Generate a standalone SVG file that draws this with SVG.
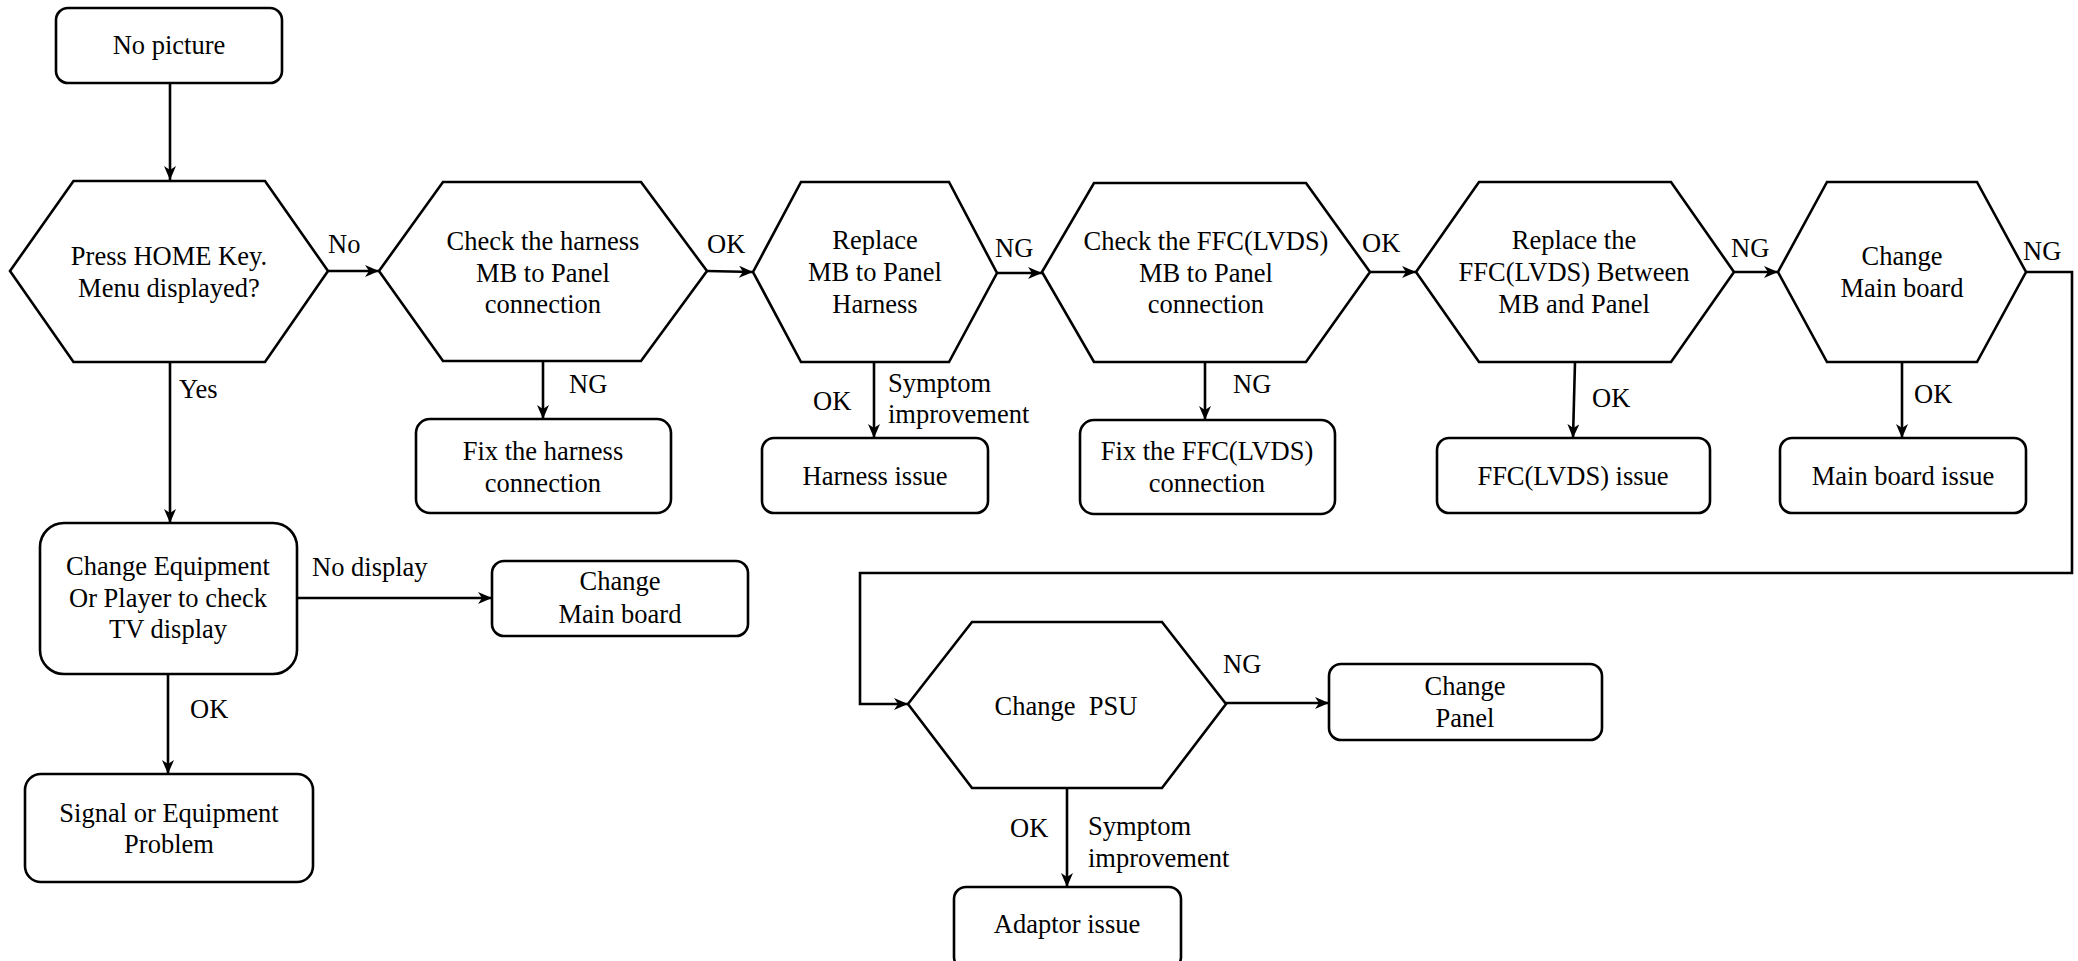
<svg xmlns="http://www.w3.org/2000/svg" width="2078" height="961" viewBox="0 0 2078 961">
<style>
.s{fill:#fff;stroke:#000;stroke-width:2.6}
.c{fill:none;stroke:#000;stroke-width:2.6}
text{font-family:"Liberation Serif","Times New Roman",serif;font-size:26.5px;fill:#000}
.m{text-anchor:middle}
</style>
<defs>
<marker id="a" viewBox="0 0 14 12" refX="14" refY="6" markerWidth="14" markerHeight="12" markerUnits="userSpaceOnUse" orient="auto">
<path d="M0,0 L14,6 L0,12 L4,6 Z" fill="#000"/>
</marker>
</defs>
<rect width="2078" height="961" fill="#fff"/>
<g id="connectors">
<path class="c" d="M170,83 V180" marker-end="url(#a)"/>
<path class="c" d="M328,271 H379" marker-end="url(#a)"/>
<path class="c" d="M707,271 L753,272" marker-end="url(#a)"/>
<path class="c" d="M997,273 L1042,273" marker-end="url(#a)"/>
<path class="c" d="M1370,272 H1416" marker-end="url(#a)"/>
<path class="c" d="M1734,272 H1778" marker-end="url(#a)"/>
<path class="c" d="M2026,272 H2072 V573 H860 V704 H908" marker-end="url(#a)"/>
<path class="c" d="M543,361 V419" marker-end="url(#a)"/>
<path class="c" d="M874,362 V438" marker-end="url(#a)"/>
<path class="c" d="M1205,362 V420" marker-end="url(#a)"/>
<path class="c" d="M1575,362 L1573,438" marker-end="url(#a)"/>
<path class="c" d="M1902,362 V438" marker-end="url(#a)"/>
<path class="c" d="M170,362 V523" marker-end="url(#a)"/>
<path class="c" d="M297,598 H492" marker-end="url(#a)"/>
<path class="c" d="M168,674 V774" marker-end="url(#a)"/>
<path class="c" d="M1226,703 H1329" marker-end="url(#a)"/>
<path class="c" d="M1067,788 V887" marker-end="url(#a)"/>
<text x="328" y="253">No</text>
<text x="707" y="253">OK</text>
<text x="995" y="257">NG</text>
<text x="1362" y="252">OK</text>
<text x="1731" y="257">NG</text>
<text x="2023" y="260">NG</text>
<text x="569" y="393">NG</text>
<text x="813" y="410">OK</text>
<text x="888" y="392">Symptom</text>
<text x="888" y="423">improvement</text>
<text x="1233" y="393">NG</text>
<text x="1592" y="407">OK</text>
<text x="1914" y="403">OK</text>
<text x="179" y="398">Yes</text>
<text x="312" y="576">No display</text>
<text x="190" y="718">OK</text>
<text x="1223" y="673">NG</text>
<text x="1010" y="837">OK</text>
<text x="1088" y="835">Symptom</text>
<text x="1088" y="867">improvement</text>
</g>
<g id="n-start"><rect class="s" x="56" y="8" width="226" height="75" rx="12"/><text class="m" x="169" y="54">No picture</text></g>
<g id="n-home"><polygon class="s" points="10,271 73.5,181 265,181 328,271 265,362 73.5,362"/><text class="m" x="169" y="265">Press HOME Key.</text><text class="m" x="169" y="297">Menu displayed?</text></g>
<g id="n-checkharness"><polygon class="s" points="379,271 443,182 641,182 707,271 641,361 443,361"/><text class="m" x="543" y="250">Check the harness</text><text class="m" x="543" y="282">MB to Panel</text><text class="m" x="543" y="313">connection</text></g>
<g id="n-replaceharness"><polygon class="s" points="753,272 801,182 949,182 997,273 949,362 801,362"/><text class="m" x="875" y="249">Replace</text><text class="m" x="875" y="281">MB to Panel</text><text class="m" x="875" y="313">Harness</text></g>
<g id="n-checkffc"><polygon class="s" points="1042,272 1094,183 1306,183 1370,272 1306,362 1094,362"/><text class="m" x="1206" y="250">Check the FFC(LVDS)</text><text class="m" x="1206" y="282">MB to Panel</text><text class="m" x="1206" y="313">connection</text></g>
<g id="n-replaceffc"><polygon class="s" points="1416,272 1479,182 1671,182 1734,272 1671,362 1479,362"/><text class="m" x="1574" y="249">Replace the</text><text class="m" x="1574" y="281">FFC(LVDS) Between</text><text class="m" x="1574" y="313">MB and Panel</text></g>
<g id="n-changemb"><polygon class="s" points="1778,272 1827,182 1977,182 2026,272 1977,362 1827,362"/><text class="m" x="1902" y="265">Change</text><text class="m" x="1902" y="297">Main board</text></g>
<g id="n-psu"><polygon class="s" points="908,704 972,622 1162,622 1226,704 1162,788 972,788"/><text class="m" x="1066" y="715" xml:space="preserve">Change  PSU</text></g>
<g id="n-fixharness"><rect class="s" x="416" y="419" width="255" height="94" rx="14"/><text class="m" x="543" y="460">Fix the harness</text><text class="m" x="543" y="492">connection</text></g>
<g id="n-harnessissue"><rect class="s" x="762" y="438" width="226" height="75" rx="12"/><text class="m" x="875" y="485">Harness issue</text></g>
<g id="n-fixffc"><rect class="s" x="1080" y="420" width="255" height="94" rx="14"/><text class="m" x="1207" y="460">Fix the FFC(LVDS)</text><text class="m" x="1207" y="492">connection</text></g>
<g id="n-ffcissue"><rect class="s" x="1437" y="438" width="273" height="75" rx="12"/><text class="m" x="1573" y="485">FFC(LVDS) issue</text></g>
<g id="n-mbissue"><rect class="s" x="1780" y="438" width="246" height="75" rx="12"/><text class="m" x="1903" y="485">Main board issue</text></g>
<g id="n-equip"><rect class="s" x="40" y="523" width="257" height="151" rx="24"/><text class="m" x="168" y="575">Change Equipment</text><text class="m" x="168" y="607">Or Player to check</text><text class="m" x="168" y="638">TV display</text></g>
<g id="n-changemb2"><rect class="s" x="492" y="561" width="256" height="75" rx="12"/><text class="m" x="620" y="590">Change</text><text class="m" x="620" y="623">Main board</text></g>
<g id="n-signal"><rect class="s" x="25" y="774" width="288" height="108" rx="16"/><text class="m" x="169" y="822">Signal or Equipment</text><text class="m" x="169" y="853">Problem</text></g>
<g id="n-panel"><rect class="s" x="1329" y="664" width="273" height="76" rx="12"/><text class="m" x="1465" y="695">Change</text><text class="m" x="1465" y="727">Panel</text></g>
<g id="n-adaptor"><rect class="s" x="954" y="887" width="227" height="82" rx="12"/><text class="m" x="1067" y="933">Adaptor issue</text></g>
</svg>
